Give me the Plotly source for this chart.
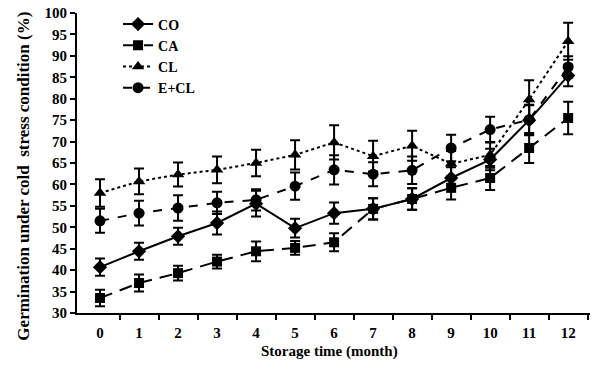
import plotly.graph_objects as go

months = list(range(13))
tick_labels = [str(m) for m in months]

co = [40.7, 44.4, 47.9, 51.0, 55.5, 49.8, 53.3, 54.3, 56.6, 61.5, 65.8, 75.0, 85.4]
co_err = [2.0, 2.0, 2.0, 2.7, 3.0, 2.2, 2.5, 2.5, 2.5, 2.5, 2.5, 3.5, 2.5]
ca = [33.5, 37.0, 39.3, 42.0, 44.4, 45.2, 46.5, 54.3, 56.6, 59.2, 61.5, 68.5, 75.5]
ca_err = [1.9, 2.0, 1.7, 1.6, 2.3, 1.6, 2.1, 2.5, 2.5, 2.7, 2.8, 3.5, 3.8]
cl = [58.0, 60.7, 62.3, 63.4, 65.0, 66.9, 69.8, 66.6, 69.0, 64.8, 66.9, 79.8, 93.4]
cl_err = [3.2, 3.0, 2.8, 3.1, 3.1, 3.4, 4.0, 3.6, 3.5, 3.0, 3.0, 4.5, 4.3]
ecl = [51.5, 53.3, 54.5, 55.7, 56.4, 59.6, 63.4, 62.4, 63.3, 68.5, 72.8, 75.1, 87.4]
ecl_err = [2.8, 2.9, 3.0, 2.6, 2.5, 3.2, 3.4, 2.8, 3.2, 3.1, 3.0, 3.5, 2.5]

series = [
    ("CO", co, co_err, "diamond", "solid", 11),
    ("CA", ca, ca_err, "square", "13px,8px", 10),
    ("CL", cl, cl_err, "triangle-up", "dot", 11),
    ("E+CL", ecl, ecl_err, "circle", "dash", 11),
]

FONT = "Liberation Serif"

fig = go.Figure()
for name, vals, errs, sym, dash, size in series:
    fig.add_trace(go.Scatter(
        x=months, y=vals, name=name, mode="lines+markers",
        line=dict(color="black", width=2, dash=dash),
        marker=dict(symbol=sym, size=size, color="black"),
        error_y=dict(type="data", array=errs, visible=True,
                     color="black", thickness=2, width=5),
    ))

fig.update_layout(
    width=592, height=378,
    margin=dict(l=77, r=2, t=13, b=65),
    paper_bgcolor="white", plot_bgcolor="white",
    font=dict(family=FONT, size=15, color="black", weight="bold"),
    showlegend=True,
    legend=dict(x=0.08, y=1.015, xanchor="left", yanchor="top",
                bgcolor="rgba(0,0,0,0)", tracegroupgap=0,
                font=dict(family=FONT, size=14, color="black", weight="bold")),
    xaxis=dict(
        range=[-0.59, 12.56], tickmode="array", tickvals=months, ticktext=tick_labels,
        ticks="outside", ticklen=5, tickcolor="rgba(0,0,0,0)",
        showline=True, linecolor="black", linewidth=2,
        showgrid=False, zeroline=False,
        tickfont=dict(family=FONT, size=15, color="black", weight="bold"),
        minor=dict(tickmode="array", tickvals=[m + 0.5 for m in months],
                   ticks="outside", ticklen=5, tickwidth=2, tickcolor="black",
                   showgrid=False),
    ),
    yaxis=dict(
        range=[30, 100], tickmode="linear", tick0=30, dtick=5,
        ticks="outside", ticklen=5, tickwidth=2, tickcolor="black",
        showline=True, linecolor="black", linewidth=2,
        showgrid=False, zeroline=False,
        tickfont=dict(family=FONT, size=15, color="black", weight="bold"),
    ),
    annotations=[
        dict(text="Storage time (month)", xref="paper", yref="paper",
             x=0.493, y=-0.13, xanchor="center", yanchor="middle",
             showarrow=False, font=dict(family=FONT, size=15, color="black", weight="bold")),
        dict(text="Germination under cold  stress condition (%)", xref="paper", yref="paper",
             x=-0.105, y=0.455, xanchor="center", yanchor="middle", textangle=-90,
             showarrow=False, font=dict(family=FONT, size=17, color="black", weight="bold")),
    ],
)

fig.write_html("out.html")
